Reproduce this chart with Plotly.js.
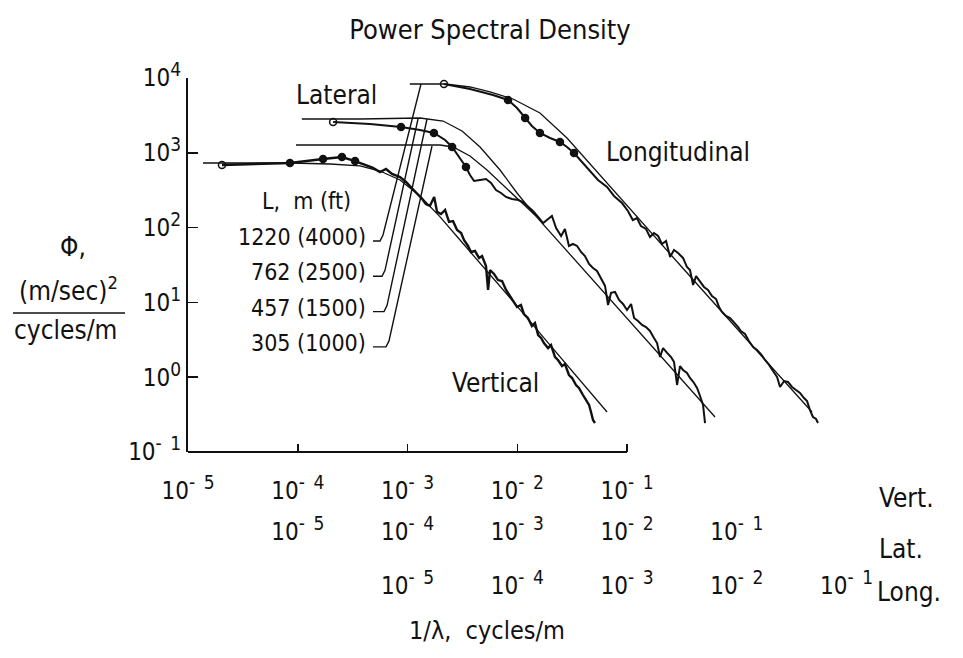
<!DOCTYPE html>
<html><head><meta charset="utf-8">
<script src="https://cdn.plot.ly/plotly-3.0.1.min.js"></script>
<style>html,body{margin:0;padding:0;background:#fff}</style>
</head><body>
<div id="chart" style="width:963px;height:658px"></div>
<script>
// ---------- data ----------
// Vertical component, frequency in cycles/m (Vert. scale)
const vertTheoryFreq = [1.37e-5, 8.49e-5, 1.97e-4, 3.69e-4, 5.61e-4, 8.55e-4, 1.30e-3, 1.98e-3, 3.01e-3, 4.58e-3, 8.59e-3, 1.99e-2, 6.58e-2];
const vertTheoryPsd  = [731, 731, 708, 667, 571, 433, 264, 139, 68.2, 33.7, 11.5, 2.69, 0.343];
const vertMeasFreq = [2.04e-5, 4.08e-5, 8.49e-5, 1.70e-4, 2.53e-4, 3.33e-4, 4.10e-4, 4.85e-4, 5.62e-4, 6.37e-4,
  7.23e-4, 8.55e-4, 9.69e-4, 1.10e-3, 1.25e-3, 1.36e-3, 1.47e-3, 1.60e-3, 1.75e-3, 1.86e-3,
  2.02e-3, 2.20e-3, 2.39e-3, 2.60e-3, 2.83e-3, 3.08e-3, 3.27e-3, 3.56e-3, 3.79e-3, 4.12e-3,
  4.49e-3, 4.78e-3, 5.19e-3, 5.42e-3, 5.65e-3, 6.14e-3, 6.68e-3, 7.27e-3, 7.91e-3, 8.59e-3,
  9.34e-3, 9.95e-3, 1.08e-2, 1.15e-2, 1.25e-2, 1.36e-2, 1.45e-2, 1.55e-2, 1.65e-2, 1.75e-2,
  1.91e-2, 2.03e-2, 2.21e-2, 2.35e-2, 2.56e-2, 2.72e-2, 2.96e-2, 3.16e-2, 3.43e-2, 3.65e-2,
  3.97e-2, 4.23e-2, 4.51e-2, 4.70e-2, 4.90e-2, 5.11e-2];
const vertMeasPsd = [687, 708, 731, 827, 879, 776, 687, 627, 553, 607,
  521, 474, 407, 338, 281, 241, 207, 195, 257, 162,
  152, 172, 119, 122, 92.9, 84.7, 68.2, 56.8, 47.2, 48.7,
  39.3, 41.7, 30.7, 14.7, 27.1, 24.0, 19.9, 19.3, 14.7, 12.2,
  9.82, 8.69, 9.23, 7.00, 6.18, 4.84, 5.31, 3.66, 3.34, 2.86,
  2.45, 2.69, 1.86, 1.70, 1.41, 1.50, 1.07, 0.975, 0.787, 0.718,
  0.578, 0.495, 0.425, 0.343, 0.268, 0.244];
const vertMarkIdx = [0, 2, 3, 4, 5];

// Lateral component (Lat. scale)
const latUpperFreq = [1.09e-5, 3.69e-5, 1.30e-4, 2.11e-4, 3.14e-4, 4.58e-4, 6.97e-4, 9.95e-4, 1.45e-3, 2.45e-3, 5.68e-3, 1.62e-2, 6.34e-2];
const latUpperPsd  = [2831, 2831, 2918, 2661, 1956, 1196, 589, 290, 147, 62.2, 15.6, 2.78, 0.294];
const latLowerFreq = [9.64e-6, 5.62e-5, 1.98e-4, 2.60e-4, 3.71e-4, 5.30e-4, 7.74e-4, 1.06e-3, 1.45e-3];
const latLowerPsd  = [1271, 1271, 1271, 1196, 906, 589, 349, 227, 147];
const latMeasFreq = [2.10e-5, 4.55e-5, 8.73e-5, 1.30e-4, 1.74e-4, 2.20e-4, 2.55e-4, 2.95e-4, 3.41e-4, 3.71e-4,
  4.04e-4, 4.58e-4, 5.19e-4, 5.77e-4, 6.40e-4, 7.11e-4, 7.90e-4, 8.96e-4, 1.02e-3, 1.13e-3,
  1.25e-3, 1.39e-3, 1.55e-3, 1.72e-3, 1.91e-3, 2.07e-3, 2.26e-3, 2.51e-3, 2.72e-3, 2.96e-3,
  3.22e-3, 3.51e-3, 3.81e-3, 4.14e-3, 4.51e-3, 4.90e-3, 5.33e-3, 5.80e-3, 6.31e-3, 6.72e-3,
  7.15e-3, 7.78e-3, 8.46e-3, 9.20e-3, 1.00e-2, 1.09e-2, 1.16e-2, 1.26e-2, 1.37e-2, 1.49e-2,
  1.62e-2, 1.76e-2, 1.88e-2, 2.00e-2, 2.13e-2, 2.32e-2, 2.52e-2, 2.68e-2, 2.86e-2, 3.04e-2,
  3.24e-2, 3.52e-2, 3.75e-2, 4.08e-2, 4.35e-2, 4.63e-2, 4.93e-2, 5.14e-2];
const latMeasPsd = [2582, 2427, 2213, 2017, 1839, 1483, 1196, 879, 646, 505,
  420, 433, 446, 395, 318, 290, 257, 241, 234, 220,
  194, 167, 139, 115, 130, 143, 98.8, 77.2, 95.8, 56.8,
  60.4, 56.8, 47.2, 41.7, 32.6, 28.8, 26.3, 20.6, 16.6, 9.23,
  13.4, 13.8, 10.8, 9.52, 7.91, 9.52, 6.18, 5.64, 4.99, 4.69,
  4.15, 3.34, 2.86, 1.86, 2.45, 2.11, 1.86, 1.60, 0.787, 1.41,
  1.25, 1.14, 0.976, 0.837, 0.718, 0.561, 0.425, 0.244];
const latMarkIdx = [0, 2, 4, 6, 8];

// Longitudinal component (Long. scale)
const longTheoryFreq = [1.05e-5, 2.20e-5, 3.71e-5, 5.65e-5, 9.15e-5, 1.61e-4, 2.84e-4, 5.33e-4, 1.00e-3, 3.04e-3, 1.07e-2, 4.85e-2];
const longTheoryPsd  = [8314, 8314, 7582, 6501, 5240, 3405, 1577, 554, 194, 31.6, 4.02, 0.343];
const longMeasFreq = [2.15e-5, 3.71e-5, 6.01e-5, 8.24e-5, 9.95e-5, 1.18e-4, 1.36e-4, 1.61e-4, 1.99e-4, 2.45e-4,
  2.84e-4, 3.29e-4, 3.89e-4, 4.60e-4, 5.44e-4, 6.58e-4, 7.61e-4, 9.01e-4, 1.02e-3, 1.13e-3,
  1.23e-3, 1.34e-3, 1.49e-3, 1.62e-3, 1.76e-3, 1.92e-3, 2.08e-3, 2.27e-3, 2.47e-3, 2.68e-3,
  2.92e-3, 3.24e-3, 3.52e-3, 3.75e-3, 4.00e-3, 4.26e-3, 4.63e-3, 5.03e-3, 5.47e-3, 5.95e-3,
  6.48e-3, 6.89e-3, 7.34e-3, 7.98e-3, 8.69e-3, 9.44e-3, 1.03e-2, 1.09e-2, 1.19e-2, 1.29e-2,
  1.41e-2, 1.53e-2, 1.66e-2, 1.81e-2, 1.97e-2, 2.14e-2, 2.33e-2, 2.48e-2, 2.70e-2, 2.93e-2,
  3.19e-2, 3.47e-2, 3.77e-2, 4.10e-2, 4.37e-2, 4.65e-2, 4.95e-2, 5.28e-2, 5.50e-2];
const longMeasPsd = [8314, 7129, 5928, 5080, 3971, 2918, 2283, 1839, 1577, 1395,
  1196, 994, 753, 554, 433, 349, 265, 213, 167, 126,
  134, 105, 95.8, 74.9, 84.7, 77.2, 60.4, 66.2, 40.5, 50.2,
  45.7, 39.3, 29.7, 27.1, 17.1, 22.5, 19.3, 16.1, 14.7, 12.2,
  11.1, 8.69, 7.45, 6.58, 6.18, 5.47, 4.69, 4.15, 3.78, 3.05,
  2.53, 2.31, 2.04, 1.70, 1.46, 1.21, 1.01, 0.740, 0.889, 0.863,
  0.740, 0.675, 0.615, 0.527, 0.481, 0.364, 0.294, 0.276, 0.244];
const longMarkIdx = [0, 3, 5, 7, 9, 11];

// tick labels
const freqTicks = [1e-5, 1e-4, 1e-3, 1e-2, 1e-1];
const freqExp = ['-\u20025', '-\u20024', '-\u20023', '-\u20022', '-\u20021'];
const psdTicks = [1e-1, 1, 10, 100, 1000, 10000];
const psdExp = ['-\u20021', '0', '1', '2', '3', '4'];
const lengthLabels = ['1220 (4000)', '762 (2500)', '457 (1500)', '305 (1000)'];

// ---------- layout geometry ----------
const W = 963, H = 658;
const M = {l: 188, r: 93, t: 78, b: 206};
const PW = W - M.l - M.r, PH = H - M.t - M.b;
const pxPerDecade = 109.75;
const span = PW / pxPerDecade;
const px = v => (v - M.l) / PW;      // pixel -> paper x
const py = v => (M.t + PH - v) / PH; // pixel -> paper y

const FONT = 'DejaVu Sans Condensed, Liberation Sans Narrow, DejaVu Sans, sans-serif';
const INK = '#111';
const powLabel = e => `10<sup><span style="font-size:19px">${e}</span></sup>`;

const pick = (arr, idx) => idx.map(i => arr[i]);
const line = (x, y, xa, w) => ({x, y, xaxis: xa, yaxis: 'y', type: 'scatter', mode: 'lines',
  line: {color: INK, width: w}, hoverinfo: 'skip'});
const marks = (x, y, xa) => ({x, y, xaxis: xa, yaxis: 'y', type: 'scatter', mode: 'markers',
  marker: {color: INK, size: 7, symbol: x.map((_, i) => i === 0 ? 'circle-open' : 'circle'), line: {color: INK, width: 1.5}},
  hoverinfo: 'skip'});

const traces = [
  line(vertTheoryFreq, vertTheoryPsd, 'x', 1.3),
  line(vertMeasFreq, vertMeasPsd, 'x', 2.4),
  marks(pick(vertMeasFreq, vertMarkIdx), pick(vertMeasPsd, vertMarkIdx), 'x'),
  line(latUpperFreq, latUpperPsd, 'x2', 1.3),
  line(latLowerFreq, latLowerPsd, 'x2', 1.3),
  line(latMeasFreq, latMeasPsd, 'x2', 2),
  marks(pick(latMeasFreq, latMarkIdx), pick(latMeasPsd, latMarkIdx), 'x2'),
  line(longTheoryFreq, longTheoryPsd, 'x3', 1.3),
  line(longMeasFreq, longMeasPsd, 'x3', 2),
  marks(pick(longMeasFreq, longMarkIdx), pick(longMeasPsd, longMarkIdx), 'x3')
];

const tickFont = {family: FONT, size: 24, color: INK};
const freqAxis = (start, extra) => Object.assign({
  type: 'log', range: [start, start + span], domain: [0, 1],
  tickvals: freqTicks, ticktext: freqExp.map(powLabel), tickfont: tickFont,
  showgrid: false, zeroline: false, showline: false, fixedrange: true
}, extra);

const ann = (text, x, y, size, xanchor) => ({text, xref: 'paper', yref: 'paper', x: px(x), y: py(y),
  xanchor: xanchor || 'center', yanchor: 'middle', showarrow: false, font: {family: FONT, size, color: INK}});

const annotations = [
  ann('Lateral', 336, 95, 26),
  ann('Longitudinal', 678, 152, 26),
  ann('Vertical', 495, 383, 26),
  ann('L,  m (ft)', 306, 201, 23),
  ...lengthLabels.map((t, i) => ann(t, 368, 237 + i * 35.3, 23, 'right')),
  ann('Φ,', 73, 247, 26),
  ann('(m/sec)<sup>2</sup>', 68, 289, 26),
  ann('cycles/m', 65, 330, 26),
  ann('1/λ,  cycles/m', 487, 630, 25),
  ann('Vert.', 877, 498, 26, 'left'),
  ann('Lat.', 877, 549, 26, 'left'),
  ann('Long.', 875, 592, 26, 'left')
];

// leader lines from the length labels to the spectrum plateaus
const leaderEnds = [[421, 84], [418, 119], [427, 119], [432, 146]];
const shapes = leaderEnds.map(([ex, ey], i) => {
  const yc = 237 + i * 35.3 + 4;
  const x0 = 373, x1 = 380 + i * 2;
  return {type: 'path', xref: 'paper', yref: 'paper',
    path: `M ${px(x0)},${py(yc)} L ${px(x1)},${py(yc)} L ${px(x1 + 3)},${py(yc - 6)} L ${px(ex)},${py(ey)}`,
    line: {color: INK, width: 1.4}};
});
// vertical-scale frequency axis line (10^-5 .. 10^-1)
shapes.push({type: 'line', xref: 'x', yref: 'paper', x0: freqTicks[0], x1: freqTicks[4], y0: 0, y1: 0,
  line: {color: INK, width: 2}});
// fraction bar of the y-axis title
shapes.push({type: 'line', xref: 'paper', yref: 'paper', x0: px(13), x1: px(125), y0: py(313), y1: py(313),
  line: {color: INK, width: 1.5}});

const layout = {
  width: W, height: H, margin: M,
  paper_bgcolor: '#fff', plot_bgcolor: 'rgba(0,0,0,0)',
  showlegend: false, hovermode: false,
  font: {family: FONT, color: INK},
  title: {text: 'Power Spectral Density', x: 490 / W, xanchor: 'center', y: 1 - 30 / H, yanchor: 'middle',
    xref: 'container', yref: 'container', font: {family: FONT, size: 27, color: INK}},
  xaxis: freqAxis(-5, {ticks: 'inside', ticklen: 8, tickwidth: 1.5, tickcolor: INK, ticklabelstandoff: 22}),
  xaxis2: freqAxis(-6, {overlaying: 'x', anchor: 'y', side: 'bottom', ticks: '', ticklabelstandoff: 63}),
  xaxis3: freqAxis(-7, {overlaying: 'x', anchor: 'y', side: 'bottom', ticks: '', ticklabelstandoff: 117}),
  yaxis: {type: 'log', range: [-1, 4], tickvals: psdTicks, ticktext: psdExp.map(powLabel), tickfont: tickFont,
    ticks: 'inside', ticklen: 10, tickwidth: 1.5, tickcolor: INK,
    showline: true, linewidth: 2, linecolor: INK, showgrid: false, zeroline: false, fixedrange: true},
  annotations, shapes
};

Plotly.newPlot('chart', traces, layout, {displayModeBar: false, staticPlot: true});
</script>
</body></html>
